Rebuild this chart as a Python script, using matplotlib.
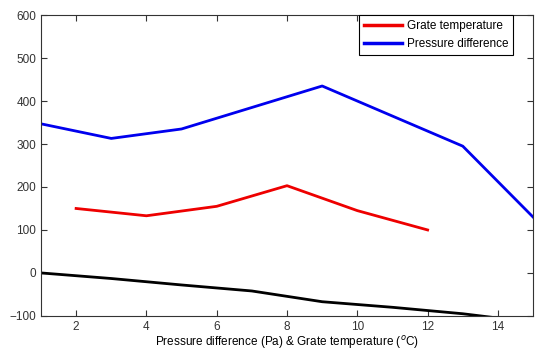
import matplotlib
matplotlib.use("Agg")
import matplotlib.pyplot as plt

plt.rcParams['font.family'] = ['Liberation Sans', 'DejaVu Sans']

# grate temperature
x_red = [2, 4, 6, 8, 10, 12]
y_red = [150, 133, 155, 203, 145, 100]

# pressure difference
x_blue = [1, 3, 5, 7, 9, 11, 13, 15]
y_blue = [347, 313, 335, 385, 435, 365, 295, 130]

# black baseline curve (not in legend)
x_black = [1, 3, 5, 7, 9, 11, 13, 14]
y_black = [0, -13, -28, -42, -67, -80, -95, -105]

xticks = [2, 4, 6, 8, 10, 12, 14]
yticks = [-100, 0, 100, 200, 300, 400, 500, 600]

fig = plt.figure(figsize=(5.39, 3.51), dpi=100)
ax = fig.add_axes([0.076, 0.1, 0.913, 0.857])

ax.plot(x_red, y_red, color='#ee0000', lw=2, label='Grate temperature')
ax.plot(x_blue, y_blue, color='#0000ee', lw=2, label='Pressure difference')
ax.plot(x_black, y_black, color='black', lw=2)

ax.set_xlim(1, 15)
ax.set_ylim(-100, 600)
ax.set_xticks(xticks)
ax.set_yticks(yticks)
ax.tick_params(direction='in', top=True, right=True, labelsize=8.5, length=4, colors='#333333')
for s in ax.spines.values():
    s.set_color('#333333')

ax.set_xlabel('Pressure difference (Pa) & Grate temperature ($^o$C)', fontsize=8.5, labelpad=1)

leg = ax.legend(loc='upper right', bbox_to_anchor=(0.96, 1.0), borderaxespad=0,
                fontsize=8.5, fancybox=False, edgecolor='black', framealpha=1,
                handlelength=3.2, handletextpad=0.4, borderpad=0.45, labelspacing=0.45)
leg.get_frame().set_linewidth(0.8)
for line in leg.get_lines():
    line.set_linewidth(2.5)

fig.savefig('out.png', dpi=100)
